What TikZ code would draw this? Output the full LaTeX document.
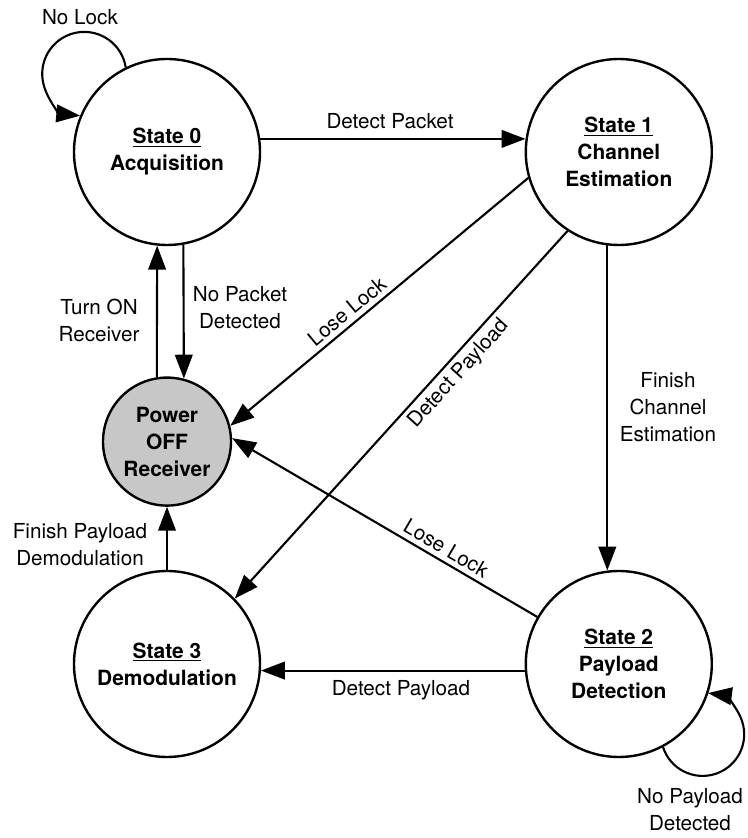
\documentclass[tikz,border=0pt]{standalone}
\usepackage{fontspec}
\setmainfont{TeX Gyre Heros}
\usetikzlibrary{arrows.meta}

\begin{document}
\begin{tikzpicture}[
  statenode/.style={circle, draw, line width=1.7pt, minimum size=4.65cm, inner sep=0pt, align=center, font=\fontsize{14.9}{19.2}\selectfont\bfseries},
  offnode/.style={statenode, minimum size=3.2cm, fill=black!22},
  tr/.style={-{Triangle[length=17pt, width=12.5pt]}, line width=1.5pt},
  lbl/.style={align=center, font=\fontsize{14.7}{19.2}\selectfont}
]
\useasboundingbox (0,0) rectangle (18.7,20.95);

% States
\node[statenode] (S0) at (4.175,17.15) {\underline{State 0}\\Acquisition};
\node[statenode] (S1) at (15.47,17.15) {\underline{State 1}\\Channel\\Estimation};
\node[statenode] (S2) at (15.47,4.35) {\underline{State 2}\\Payload\\Detection};
\node[statenode] (S3) at (4.175,4.35) {\underline{State 3}\\Demodulation};

% Receiver switched off
\node[offnode] (P) at (4.175,9.91) {Power\\OFF\\Receiver};

% Transitions
\draw[tr] (S0.8) -- (S1.172);
\draw[tr] (S0.-80) -- (P.75);
\draw[tr] (P.99) -- (S0.-96);
\draw[tr] (S1.196) -- node[lbl, pos=0.58, sloped, above] {Lose Lock} (P.14);
\draw[tr] (S1.237) -- node[lbl, pos=0.36, sloped, below] {Detect Payload} (S3.44);
\draw[tr] (S1.-97) -- (S2.97);
\draw[tr] (S2.150) -- node[lbl, pos=0.32, sloped, above] {Lose Lock} (P.3);
\draw[tr] (S2.184) -- (S3.-4);
\draw[tr] (S3.north) -- (P.south);

% Self loops
\draw[tr] (S0.116) arc[start angle=9, end angle=264.5, radius=1.05cm];
\draw[tr] (S2.-62) arc[start angle=198, end angle=442.5, radius=1.04cm];

% Labels
\node[lbl] (lnolock) at (2.0,20.525) {No Lock};
\node[lbl] (lpacket) at (9.75,17.925) {Detect Packet};
\node[lbl] (lturnon) at (2.475,12.95) {Turn ON\\Receiver};
\node[lbl] (lnopacket) at (6.0,13.25) {No Packet\\Detected};
\node[lbl] (lfinchan) at (16.7,10.775) {Finish\\Channel\\Estimation};
\node[lbl] (lfinpay) at (2.0,7.325) {Finish Payload\\Demodulation};
\node[lbl] (lpayload) at (10.025,3.7) {Detect Payload};
\node[lbl] (lnopayload) at (17.25,0.7) {No Payload\\Detected};

\end{tikzpicture}
\end{document}
